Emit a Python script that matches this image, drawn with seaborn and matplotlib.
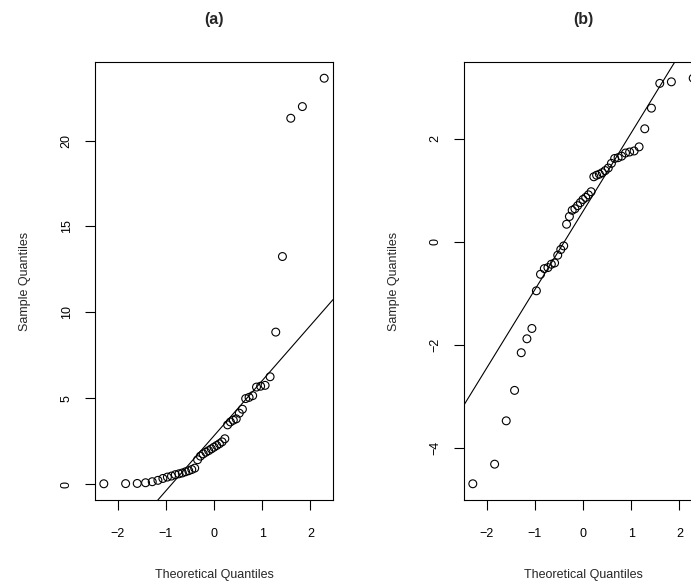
#!/usr/bin/env python3
"""
Normal QQ plots for two samples, panels (a) and (b)
"""

from statistics import NormalDist
import numpy as np
import pandas as pd
import matplotlib
matplotlib.use('Agg')  # no display
import matplotlib.pyplot as plt
import seaborn as sns

# sorted sample values (n = 45 each)
sample_a = [0.02, 0.03, 0.04, 0.08, 0.14, 0.22, 0.33, 0.41, 0.47, 0.55,
            0.60, 0.65, 0.72, 0.78, 0.85, 0.93, 1.42, 1.63, 1.76, 1.86,
            1.95, 2.05, 2.15, 2.25, 2.35, 2.46, 2.64, 3.45, 3.62, 3.72,
            3.80, 4.13, 4.36, 4.98, 5.05, 5.15, 5.65, 5.70, 5.75, 6.25,
            8.85, 13.25, 21.30, 21.98, 23.63]
sample_b = [-4.69, -4.31, -3.47, -2.88, -2.15, -1.88, -1.68, -0.95, -0.63, -0.52,
            -0.50, -0.435, -0.41, -0.26, -0.15, -0.08, 0.34, 0.49, 0.61, 0.64,
            0.70, 0.76, 0.82, 0.86, 0.91, 0.97, 1.26, 1.29, 1.31, 1.34,
            1.38, 1.43, 1.52, 1.615, 1.63, 1.66, 1.72, 1.74, 1.76, 1.84,
            2.19, 2.59, 3.07, 3.10, 3.17]

panel_titles = ['(a)', '(b)']
x_label = 'Theoretical Quantiles'
y_label = 'Sample Quantiles'
x_ticks = [-2, -1, 0, 1, 2]
y_ticks_a = [0, 5, 10, 15, 20]
y_ticks_b = [-4, -2, 0, 2]


def qq_frame(values):
    """Sorted sample against normal quantiles, ppoints style"""
    n = len(values)
    nd = NormalDist()
    theo = [nd.inv_cdf((i - 0.5) / n) for i in range(1, n + 1)]
    return pd.DataFrame({'theoretical': theo, 'sample': sorted(values)})


def padded(v):
    lo, hi = min(v), max(v)
    d = (hi - lo) * 0.04
    return lo - d, hi + d


def qq_panel(ax, values, title, yticks):
    df = qq_frame(values)
    sns.scatterplot(data=df, x='theoretical', y='sample', ax=ax,
                    marker='o', s=32, facecolors='none', edgecolor='black',
                    linewidth=0.8, zorder=3)

    # qqline through the quartiles
    q1, q3 = np.quantile(df['sample'], [0.25, 0.75])
    z1, z3 = NormalDist().inv_cdf(0.25), NormalDist().inv_cdf(0.75)
    slope = (q3 - q1) / (z3 - z1)
    intercept = q1 - slope * z1
    ax.axline((0, intercept), slope=slope, color='black', linewidth=0.8)

    ax.set_xlim(*padded(df['theoretical']))
    ax.set_ylim(*padded(df['sample']))
    ax.set_xticks(x_ticks)
    ax.set_yticks(yticks)
    ax.set_xticklabels([f'{t:d}'.replace('-', '\u2212') for t in x_ticks])
    ax.set_yticklabels([f'{t:d}'.replace('-', '\u2212') for t in yticks],
                       rotation=90, va='center')

    ax.tick_params(axis='both', direction='out', length=7, width=0.8,
                   color='black', labelsize=9, labelcolor='black',
                   bottom=True, left=True, top=False, right=False)
    ax.tick_params(axis='x', pad=13)
    ax.tick_params(axis='y', pad=9)

    for sp in ax.spines.values():
        sp.set_visible(True)
        sp.set_color('black')
        sp.set_linewidth(0.8)

    ax.set_xlabel(x_label, fontsize=9)
    ax.set_ylabel(y_label, fontsize=9)
    ax.xaxis.set_label_coords(0.5, -0.171)
    ax.xaxis.label.set_va('center')
    ax.yaxis.set_label_coords(-0.294, 0.5)
    ax.yaxis.label.set_va('center')

    ax.text(0.5, 1.096, title, transform=ax.transAxes, ha='center',
            va='center', fontsize=11.5, fontweight='bold')


sns.set_theme(style='white')
plt.rcParams['font.family'] = ['Liberation Sans', 'DejaVu Sans']

fig = plt.figure(figsize=(6.91, 5.87), dpi=100)
ax_a = fig.add_axes([95 / 691, 87 / 587, 238 / 691, 438 / 587])
ax_b = fig.add_axes([464 / 691, 87 / 587, 238 / 691, 438 / 587])

qq_panel(ax_a, sample_a, panel_titles[0], y_ticks_a)
qq_panel(ax_b, sample_b, panel_titles[1], y_ticks_b)

fig.savefig('out.png', dpi=100, facecolor='white')
plt.close(fig)
